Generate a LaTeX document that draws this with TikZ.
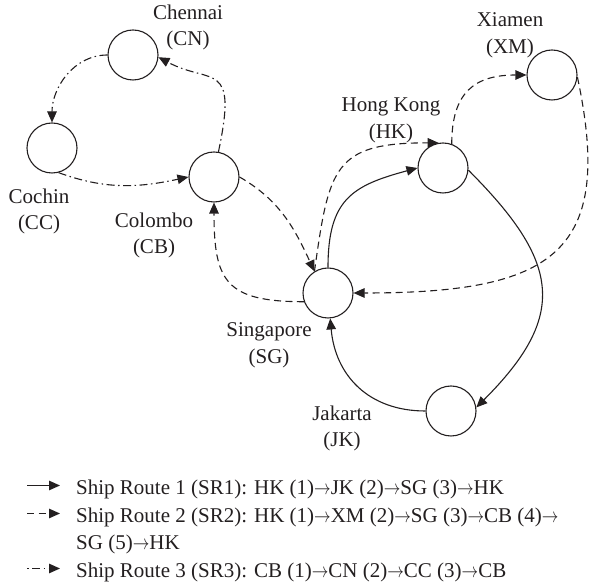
\documentclass[tikz,border=0pt]{standalone}
\usepackage{fontspec}
\setmainfont{Liberation Serif}
\usepackage{graphicx}
\usepackage{tikz}
\usetikzlibrary{arrows.meta,positioning,calc}
\definecolor{Ink}{HTML}{231F20}
\newcommand{\nxt}{\scalebox{0.8}[1]{$\rightarrow$}}
\tikzset{
  portbox/.style={draw=Ink,circle,line width=1.1pt,minimum size=50pt,inner sep=0pt},
  namebox/.style={align=center,font=\fontsize{21}{26.5}\selectfont,text=Ink,inner sep=0pt},
  keytext/.style={anchor=base west,font=\fontsize{21}{26.5}\selectfont,text=Ink,inner sep=0pt},
  solidline/.style={-{Triangle[length=11pt,width=9.5pt]},draw=Ink,line width=1.1pt},
  dashline/.style={solidline,dash pattern=on 7pt off 4.5pt},
  dotline/.style={solidline,dash pattern=on 8pt off 3.5pt on 1.5pt off 3.5pt}
}
\begin{document}
\begin{tikzpicture}[x=1pt,y=1pt]
  \useasboundingbox (0,0) rectangle (592,586);
  % ports
  \node[portbox] (cn) at (133,531) {};
  \node[portbox] (cc) at (52,438) {};
  \node[portbox] (cb) at (214,409) {};
  \node[portbox] (hk) at (443,418) {};
  \node[portbox] (xm) at (552,511) {};
  \node[portbox] (sg) at (328,293) {};
  \node[portbox] (jk) at (451,175) {};
  % port names
  \node[namebox] (cnname) at (188,558.5) {Chennai\\(CN)};
  \node[namebox] (xmname) at (510,550.7) {Xiamen\\(XM)};
  \node[namebox] (hkname) at (391,465.7) {Hong Kong\\(HK)};
  \node[namebox] (ccname) at (39,374.7) {Cochin\\(CC)};
  \node[namebox] (cbname) at (154,350.7) {Colombo\\(CB)};
  \node[namebox] (sgname) at (269,240.7) {Singapore\\(SG)};
  \node[namebox] (jkname) at (342,157.7) {Jakarta\\(JK)};
  % ship route 1
  \draw[solidline] (hk.-5) to[out=-45,in=45,looseness=1.4] (jk.8);
  \draw[solidline] (jk.west) to[out=180,in=-85,looseness=1.1] (sg.-85);
  \draw[solidline] (sg.north) to[out=90,in=195,looseness=1.3] (hk.west);
  % ship route 2
  \draw[dashline] (hk.70) to[out=90,in=180,looseness=1.3] (xm.west);
  \draw[dashline] (xm.-5) .. controls +(-78:180) and +(0:200) .. (sg.east);
  \draw[dashline] (sg.200) to[out=180,in=-90,looseness=1.5] (cb.south);
  \draw[dashline] (cb.east) to[out=-30,in=115] (sg.122);
  \draw[dashline] (sg.122) to[out=82,in=180,looseness=1.5] (hk.100);
  % ship route 3
  \draw[dotline] (cb.80) .. controls +(78:95) and +(-28:60) .. (cn.-5);
  \draw[dotline] (cn.west) to[out=180,in=90] (cc.north);
  \draw[dotline] (cc.-75) to[out=-20,in=192] (cb.west);
  % legend
  \node[keytext] (sr1) at (76,91) {Ship Route 1 (SR1): HK (1)\nxt JK (2)\nxt SG (3)\nxt HK};
  \node[keytext] (sr2) at (76,63) {Ship Route 2 (SR2): HK (1)\nxt XM (2)\nxt SG (3)\nxt CB (4)\nxt};
  \node[keytext] (sr2b) at (76,36) {SG (5)\nxt HK};
  \node[keytext] (sr3) at (76,8) {Ship Route 3 (SR3): CB (1)\nxt CN (2)\nxt CC (3)\nxt CB};
  \coordinate (key1) at (27,100.5);
  \coordinate (key2) at (27,72.5);
  \coordinate (key3) at (27,17.5);
  \draw[solidline,shorten >=16pt] (key1) -- (key1 -| sr1.west);
  \draw[dashline,shorten >=16pt] (key2) -- (key2 -| sr2.west);
  \draw[dotline,dash phase=11.5pt,shorten >=16pt] (key3) -- (key3 -| sr3.west);
\end{tikzpicture}
\end{document}
